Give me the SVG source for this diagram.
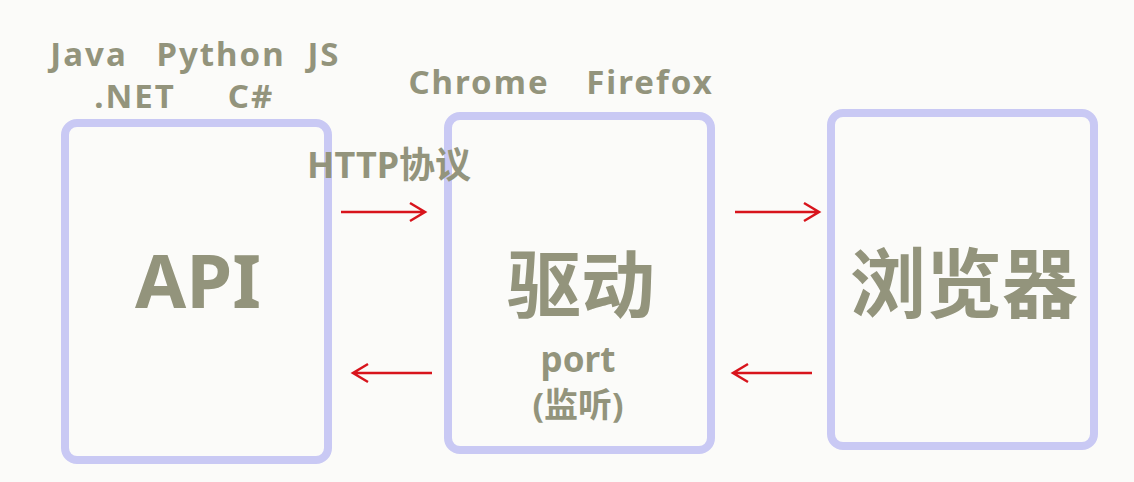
<svg xmlns="http://www.w3.org/2000/svg" width="1134" height="482" viewBox="0 0 1134 482">
<style>
.box{fill:none;stroke:#c9c9f4;stroke-width:8}
.t{font-family:"Noto Sans","Noto Sans CJK SC",sans-serif;fill:#93947c;font-weight:bold;text-anchor:middle}
.s{font-size:33px;letter-spacing:2px}
.a{stroke:#d8141c;stroke-width:2.5;fill:none}
</style>
<rect width="1134" height="482" fill="#fbfbf9"/>
<g id="api"><rect class="box" x="65" y="123" width="263" height="337" rx="12"/>
<text class="t" x="198" y="308" font-size="74">API</text>
<text class="t s" x="89" y="66">Java</text>
<text class="t s" x="221" y="66">Python</text>
<text class="t s" x="324" y="66">JS</text>
<text class="t s" x="135" y="108">.NET</text>
<text class="t s" x="251" y="108">C#</text></g>
<g id="driver"><rect class="box" x="448" y="116" width="263" height="334" rx="12"/>
<text class="t" x="581" y="312" font-size="74">驱动</text>
<text class="t" x="578" y="372" font-size="35">port</text>
<text class="t" x="578" y="417" font-size="34">(监听)</text>
<text class="t s" x="479" y="94">Chrome</text>
<text class="t s" x="650" y="94">Firefox</text></g>
<g id="browser"><rect class="box" x="831" y="113" width="263" height="333" rx="12"/>
<text class="t" x="964" y="312" font-size="76">浏览器</text></g>
<g id="connectors">
<text class="t" x="389" y="178" font-size="36">HTTP协议</text>
<path class="a" d="M341 212H425M410 203L425 212L410 221"/>
<path class="a" d="M735 212H819M804 203L819 212L804 221"/>
<path class="a" d="M432 373H353M368 364L353 373L368 382"/>
<path class="a" d="M812 373H733M748 364L733 373L748 382"/>
</g>
</svg>
